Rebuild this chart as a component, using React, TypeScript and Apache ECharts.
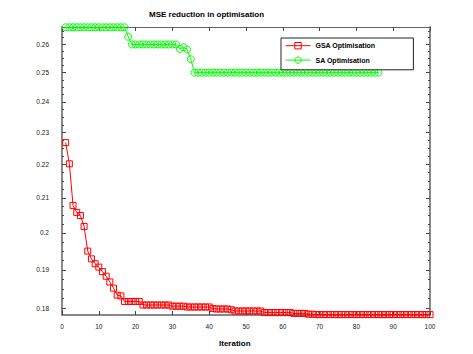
import React, { useEffect, useRef } from "react";
import * as echarts from "echarts";

const titleText = "MSE reduction in optimisation";
const xAxisName = "Iteration";
const seriesNames = ["GSA Optimisation", "SA Optimisation"];

const xTicks = [0, 10, 20, 30, 40, 50, 60, 70, 80, 90, 100];
const yMajorTicks = [0.18, 0.19, 0.2, 0.21, 0.22, 0.23, 0.24, 0.25, 0.26];
const yMinorTicks = [
  0.1825, 0.185, 0.1875, 0.1925, 0.195, 0.1975, 0.2025, 0.205, 0.2075,
  0.2125, 0.215, 0.2175, 0.2225, 0.225, 0.2275, 0.2325, 0.235, 0.2375,
  0.2425, 0.245, 0.2475, 0.2525, 0.255, 0.2575, 0.2625, 0.265,
];

// GSA (red squares), iterations 1..100
const gsaValues = [
  0.2268, 0.2202, 0.2078, 0.2058, 0.2049, 0.2018, 0.195, 0.1929, 0.1916, 0.1907,
  0.1895, 0.1883, 0.1868, 0.1852, 0.1834, 0.1832, 0.1818, 0.1818, 0.1818, 0.1818,
  0.1818, 0.1809, 0.1809, 0.1809, 0.1809, 0.1809, 0.1809, 0.1809, 0.1809, 0.1806,
  0.1806, 0.1806, 0.1806, 0.1804, 0.1804, 0.1804, 0.1804, 0.1804, 0.1804, 0.1804,
  0.18, 0.1799, 0.1799, 0.1799, 0.1799, 0.1797, 0.1794, 0.1794, 0.1794, 0.1794,
  0.1794, 0.1794, 0.1794, 0.1794, 0.179, 0.179, 0.179, 0.179, 0.179, 0.179,
  0.179, 0.179, 0.1788, 0.1788, 0.1788, 0.1788, 0.1786, 0.1786, 0.1785, 0.1785,
  0.1785, 0.1785, 0.1785, 0.1785, 0.1785, 0.1785, 0.1785, 0.1785, 0.1785, 0.1785,
  0.1785, 0.1785, 0.1785, 0.1785, 0.1785, 0.1785, 0.1785, 0.1785, 0.1785, 0.1785,
  0.1785, 0.1785, 0.1785, 0.1785, 0.1785, 0.1785, 0.1785, 0.1785, 0.1785, 0.1785,
];

// SA (green circles), iterations 1..86
const saValues = [
  0.2663, 0.2663, 0.2663, 0.2663, 0.2663, 0.2663, 0.2663, 0.2663, 0.2663, 0.2663,
  0.2663, 0.2663, 0.2663, 0.2663, 0.2663, 0.2663, 0.2663, 0.2628, 0.26, 0.26,
  0.26, 0.26, 0.26, 0.26, 0.26, 0.26, 0.26, 0.26, 0.26, 0.26,
  0.26, 0.2584, 0.259, 0.2582, 0.2547, 0.25, 0.25, 0.25, 0.25, 0.25,
  0.25, 0.25, 0.25, 0.25, 0.25, 0.25, 0.25, 0.25, 0.25, 0.25,
  0.25, 0.25, 0.25, 0.25, 0.25, 0.25, 0.25, 0.25, 0.25, 0.25,
  0.25, 0.25, 0.25, 0.25, 0.25, 0.25, 0.25, 0.25, 0.25, 0.25,
  0.25, 0.25, 0.25, 0.25, 0.25, 0.25, 0.25, 0.25, 0.25, 0.25,
  0.25, 0.25, 0.25, 0.25, 0.25, 0.25,
];

const Y_MIN = 0.1784;
const Y_MAX = 0.2664;
const FONT = "'Liberation Sans', Arial, sans-serif";

export default function App() {
  const ref = useRef<HTMLDivElement>(null);

  useEffect(() => {
    if (!ref.current) return;
    const chart = echarts.init(ref.current, undefined, { renderer: "svg" });

    const gsaData = gsaValues.map((v, i) => [i + 1, v]);
    const saData = saValues.map((v, i) => [i + 1, v]);

    const axisLineGray = { show: true, lineStyle: { color: "#888", width: 2 } };

    const logAxisBase = {
      type: "log" as const,
      min: Y_MIN,
      max: Y_MAX,
      logBase: 10,
      splitLine: { show: false },
      minorTick: { show: false },
    };

    const option: any = {
      animation: false,
      backgroundColor: "#fff",
      title: [
        {
          text: titleText,
          left: 149,
          top: 10,
          padding: 0,
          textStyle: { fontFamily: FONT, fontSize: 8, fontWeight: "bold", color: "#000" },
        },
        {
          text: xAxisName,
          left: 219,
          top: 339,
          padding: 0,
          textStyle: { fontFamily: FONT, fontSize: 8, fontWeight: "bold", color: "#000" },
        },
      ],
      grid: { left: 62, right: 43, top: 27, bottom: 39, containLabel: false },
      legend: {
        left: 281,
        top: 38,
        orient: "vertical",
        itemWidth: 25,
        itemHeight: 8,
        itemGap: 7,
        padding: [4, 38, 6, 4],
        borderColor: "#222",
        borderWidth: 1,
        backgroundColor: "#fff",
        lineStyle: { width: 1 },
        itemStyle: { borderWidth: 1 },
        textStyle: { fontFamily: FONT, fontSize: 7, fontWeight: "bold", color: "#000" },
        data: seriesNames,
      },
      xAxis: [
        {
          type: "value",
          position: "bottom",
          min: 0,
          max: 100,
          interval: 10,
          axisLine: axisLineGray,
          axisTick: { show: true, inside: true, length: 4, lineStyle: { color: "#444" } },
          axisLabel: {
            fontFamily: FONT,
            fontSize: 6.5,
            color: "#222",
            margin: 8,
            customValues: xTicks,
          },
          splitLine: { show: false },
        },
        {
          type: "value",
          position: "top",
          min: 0,
          max: 100,
          interval: 10,
          axisLine: { show: true, lineStyle: { color: "#666", width: 1 } },
          axisTick: { show: true, inside: true, length: 4, lineStyle: { color: "#444" } },
          axisLabel: { show: false },
          splitLine: { show: false },
        },
      ],
      yAxis: [
        {
          ...logAxisBase,
          position: "left",
          axisLine: axisLineGray,
          axisTick: {
            show: true,
            inside: true,
            length: 4,
            lineStyle: { color: "#444" },
            customValues: yMajorTicks,
          },
          axisLabel: {
            fontFamily: FONT,
            fontSize: 6.5,
            color: "#222",
            margin: 13,
            customValues: yMajorTicks,
            formatter: (v: number) => String(Math.round(v * 100) / 100),
          },
        },
        {
          ...logAxisBase,
          position: "left",
          axisLine: { show: false },
          axisTick: {
            show: true,
            inside: true,
            length: 2,
            lineStyle: { color: "#444" },
            customValues: yMinorTicks,
          },
          axisLabel: { show: false },
        },
        {
          ...logAxisBase,
          position: "right",
          axisLine: axisLineGray,
          axisTick: {
            show: true,
            inside: true,
            length: 4,
            lineStyle: { color: "#444" },
            customValues: yMajorTicks,
          },
          axisLabel: { show: false },
        },
        {
          ...logAxisBase,
          position: "right",
          axisLine: { show: false },
          axisTick: {
            show: true,
            inside: true,
            length: 2,
            lineStyle: { color: "#444" },
            customValues: yMinorTicks,
          },
          axisLabel: { show: false },
        },
      ],
      series: [
        {
          name: seriesNames[0],
          type: "line",
          xAxisIndex: 0,
          yAxisIndex: 0,
          data: gsaData,
          symbol: "rect",
          symbolSize: 6,
          showAllSymbol: true,
          lineStyle: { color: "#ff0000", width: 1 },
          itemStyle: { color: "rgba(255,255,255,0)", borderColor: "#ff0000", borderWidth: 1 },
          z: 3,
        },
        {
          name: seriesNames[1],
          type: "line",
          xAxisIndex: 0,
          yAxisIndex: 0,
          data: saData,
          symbol: "circle",
          symbolSize: 7,
          showAllSymbol: true,
          lineStyle: { color: "#00ff00", width: 1 },
          itemStyle: { color: "rgba(255,255,255,0)", borderColor: "#00ff00", borderWidth: 1 },
          z: 2,
        },
      ],
    };

    chart.setOption(option);
    return () => chart.dispose();
  }, []);

  return (
    <div
      ref={ref}
      style={{ position: "absolute", left: 0, top: 0, width: 473, height: 354 }}
    />
  );
}
